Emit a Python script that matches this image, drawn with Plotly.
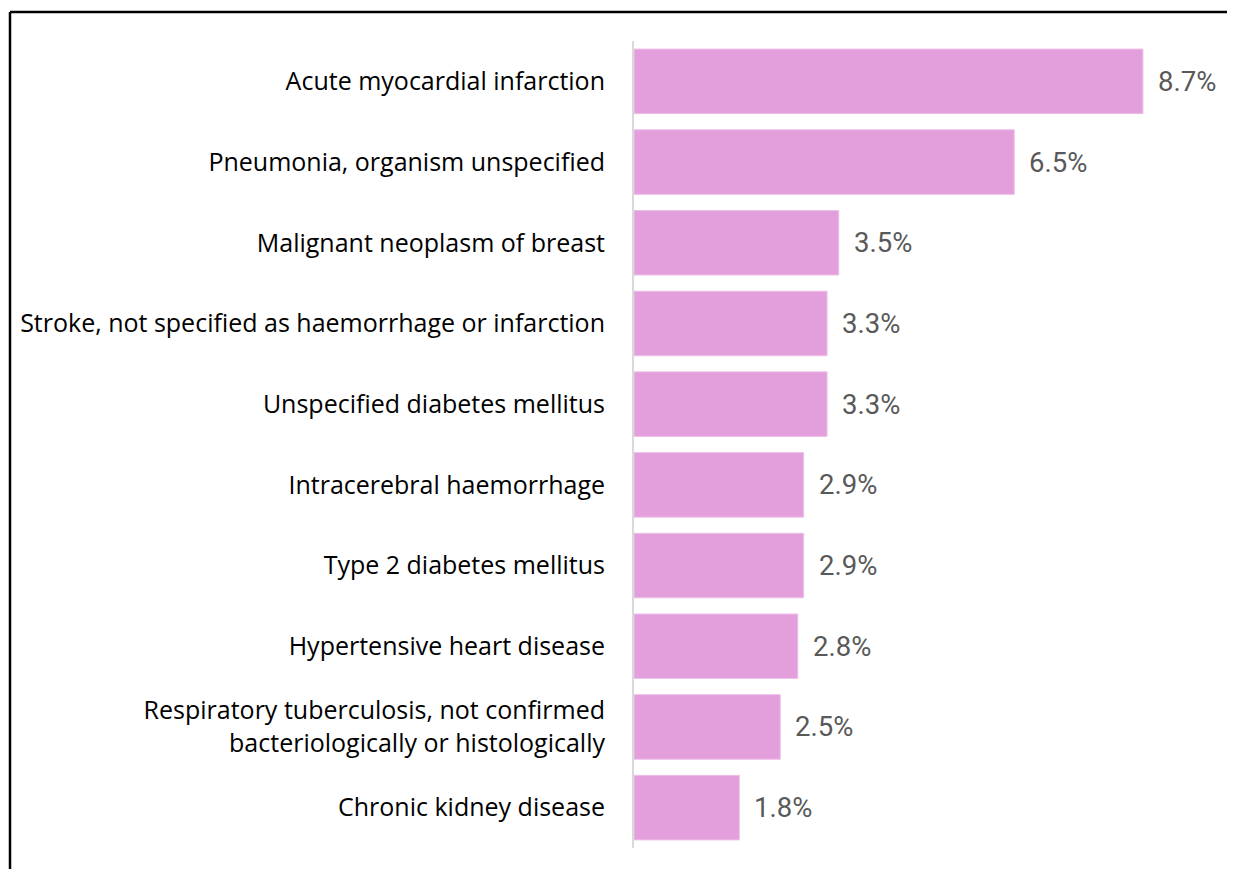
import plotly.graph_objects as go

categories = [
    "Acute myocardial infarction",
    "Pneumonia, organism unspecified",
    "Malignant neoplasm of breast",
    "Stroke, not specified as haemorrhage or infarction",
    "Unspecified diabetes mellitus",
    "Intracerebral haemorrhage",
    "Type 2 diabetes mellitus",
    "Hypertensive heart disease",
    "Respiratory tuberculosis, not confirmed<br>bacteriologically or histologically",
    "Chronic kidney disease",
]
values = [8.7, 6.5, 3.5, 3.3, 3.3, 2.9, 2.9, 2.8, 2.5, 1.8]
labels = [f"{v:.1f}%" for v in values]

OFF = 8  # default page margin of the html body
W, H = 1235 - OFF, 869 - OFF
ML, MR, MT, MB = 634 - OFF, 0, 41 - OFF, 869 - 848
pw = W - ML - MR
ph = H - MT - MB

fig = go.Figure()
fig.add_trace(go.Bar(
    x=values, y=categories, orientation="h",
    marker=dict(color="#E39EDC", line=dict(color="#EDC0E8", width=1)),
    hoverinfo="skip",
))

for v, c, t in zip(values, categories, labels):
    fig.add_annotation(x=v, y=c, text=t, showarrow=False, xanchor="left",
                       xshift=13, font=dict(family="Roboto", size=27.5, color="#595959"))

# outer frame (left and top edges)
x0 = (10 - OFF - ML) / pw
y0 = (H - MB - (12 - OFF)) / ph
fig.add_shape(type="line", xref="paper", yref="paper", x0=x0, x1=x0, y0=y0, y1=-0.1,
              line=dict(color="black", width=2.5))
fig.add_shape(type="line", xref="paper", yref="paper", x0=x0, x1=1.1, y0=y0, y1=y0,
              line=dict(color="black", width=2.5))

fig.update_layout(
    width=W, height=H,
    margin=dict(l=ML, r=MR, t=MT, b=MB),
    paper_bgcolor="white", plot_bgcolor="white",
    bargap=0.2,
    showlegend=False,
    font=dict(family="Open Sans", size=25, color="black"),
    xaxis=dict(range=[0, pw / 58.5], visible=False, fixedrange=True),
    yaxis=dict(autorange="reversed", showline=True, linecolor="#D9D9D9", linewidth=2,
               ticks="", ticklabelstandoff=22, showgrid=False,
               tickfont=dict(family="Open Sans", size=25, color="black")),
)

fig.write_html("out.html")
